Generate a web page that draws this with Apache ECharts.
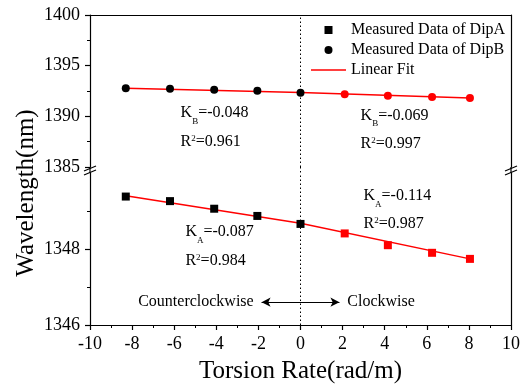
<!DOCTYPE html>
<html><head><meta charset="utf-8">
<script src="https://cdn.jsdelivr.net/npm/echarts@6/dist/echarts.min.js"></script>
<style>html,body{margin:0;padding:0;background:#fff}#c{width:526px;height:387px}</style>
</head><body><div id="c"></div>
<script>
// ---- data ----
const torsionRate = [-8.3, -6.2, -4.1, -2.05, 0, 2.1, 4.15, 6.25, 8.05];
const dipA = [1349.38, 1349.26, 1349.06, 1348.87, 1348.66, 1348.41, 1348.10, 1347.90, 1347.74];
const dipB = [1392.76, 1392.73, 1392.63, 1392.53, 1392.33, 1392.17, 1392.03, 1391.90, 1391.80];
const fitXccw = [-8.3, 0];
const fitXcw = [0, 8.05];
const fitAccw = [1349.40, 1348.68];
const fitAcw = [1348.68, 1347.74];
const fitBccw = [1392.76, 1392.36];
const fitBcw = [1392.35, 1391.80];
const xTicks = [-10, -8, -6, -4, -2, 0, 2, 4, 6, 8, 10];
const upperYTicks = [1385, 1390, 1395, 1400];
const lowerYTicks = [1346, 1348, 1350];
const lowerYLabels = [1346, 1348];
const legendNames = ['Measured Data of DipA', 'Measured Data of DipB', 'Linear Fit'];
const upperNotes = [
  {x: -5.72, y: 1390.30, text: '{n|K}{s|B}{n|=-0.048}'},
  {x: -5.72, y: 1387.50, text: '{n|R}{p|2}{n|=0.961}'},
  {x: 2.83, y: 1390.10, text: '{n|K}{s|B}{n|=-0.069}'},
  {x: 2.83, y: 1387.30, text: '{n|R}{p|2}{n|=0.997}'}
];
const lowerNotes = [
  {x: 2.97, y: 1349.40, text: '{n|K}{s|A}{n|=-0.114}'},
  {x: 2.97, y: 1348.66, text: '{n|R}{p|2}{n|=0.987}'},
  {x: -5.49, y: 1348.45, text: '{n|K}{s|A}{n|=-0.087}'},
  {x: -5.49, y: 1347.69, text: '{n|R}{p|2}{n|=0.984}'}
];
const directionNotes = [
  {x: -2.2, y: 1346.6, text: 'Counterclockwise', side: 'left'},
  {x: 2.2, y: 1346.6, text: 'Clockwise', side: 'right'}
];
const arrowSpan = [-1.85, 1.85];
const arrowY = 1346.6;

// ---- style ----
const FONT = 'Liberation Serif';
const RED = '#ff0000';
const BLACK = '#000000';
const rich = {
  n: {fontSize: 16, fontFamily: FONT, lineHeight: 26, color: BLACK},
  s: {fontSize: 9, fontFamily: FONT, lineHeight: 9, verticalAlign: 'bottom', color: BLACK},
  p: {fontSize: 9, fontFamily: FONT, lineHeight: 9, padding: [5, 0, 0, 0], verticalAlign: 'top', color: BLACK}
};
const axisLine = {show: true, onZero: false, lineStyle: {color: BLACK, width: 1.2}};
const tickStyle = {color: BLACK, width: 1.2};
const plain = v => String(v);

function pts(ys) {
  return torsionRate.map((x, i) => ({value: [x, ys[i]], itemStyle: {color: x > 0 ? RED : BLACK, opacity: 1}}));
}
function fit(xs, ys, gi) {
  return {type: 'line', name: 'Linear Fit', xAxisIndex: gi, yAxisIndex: gi * 2, symbol: 'none',
    data: xs.map((x, i) => [x, ys[i]]), lineStyle: {color: RED, width: 1.5}, itemStyle: {color: RED}, z: 3, silent: true};
}
function notes(list, gi) {
  return {type: 'scatter', xAxisIndex: gi, yAxisIndex: gi * 2, symbolSize: 1, silent: true,
    itemStyle: {color: 'rgba(0,0,0,0)', opacity: 1}, z: 6,
    data: list.map(n => ({value: [n.x, n.y], label: {formatter: n.text, position: n.side || 'right'}})),
    label: {show: true, position: 'right', distance: 0, rich: rich, fontFamily: FONT, fontSize: 16, color: BLACK}};
}
const dotted = {color: BLACK, type: [1.5, 2.5], width: 1};

const xMin = xTicks[0], xMax = xTicks[xTicks.length - 1], xInt = xTicks[1] - xTicks[0];
function xAxisBase(gi) {
  return {type: 'value', gridIndex: gi, min: xMin, max: xMax, interval: xInt, splitLine: {show: false}, axisLine: axisLine};
}
function yAxisBase(gi, ticks) {
  return {type: 'value', gridIndex: gi, min: ticks[0], max: ticks[ticks.length - 1],
    interval: ticks[1] - ticks[0], splitLine: {show: false}, axisLine: axisLine};
}

const chart = echarts.init(document.getElementById('c'));
chart.setOption({
  animation: false,
  backgroundColor: '#fff',
  grid: [
    {left: 90, right: 15, top: 15, height: 152},
    {left: 90, right: 15, top: 173, bottom: 62}
  ],
  legend: {
    data: [
      {name: legendNames[0], icon: 'path://M0,0H8V8H0Z'},
      {name: legendNames[1], icon: 'circle'},
      {name: legendNames[2], icon: 'path://M0,0H35V1.5H0Z'}
    ],
    orient: 'vertical', left: 306, top: 17, itemWidth: 35, itemHeight: 8, itemGap: 4,
    selectedMode: false, symbolKeepAspect: true,
    textStyle: {fontFamily: FONT, fontSize: 16, color: BLACK, lineHeight: 16}
  },
  xAxis: [
    Object.assign(xAxisBase(0), {position: 'top', axisTick: {show: false}, axisLabel: {show: false}}),
    Object.assign(xAxisBase(1), {position: 'bottom',
      axisTick: {show: true, length: 5, lineStyle: tickStyle},
      minorTick: {show: true, splitNumber: 2, length: 3, lineStyle: {color: BLACK, width: 1}},
      axisLabel: {fontFamily: FONT, fontSize: 18, color: BLACK, margin: 10, formatter: plain},
      name: 'Torsion Rate(rad/m)', nameLocation: 'middle', nameGap: 34,
      nameTextStyle: {fontFamily: FONT, fontSize: 25, color: BLACK}})
  ],
  yAxis: [
    Object.assign(yAxisBase(0, upperYTicks), {position: 'left',
      axisTick: {show: true, length: 5, lineStyle: tickStyle},
      minorTick: {show: true, splitNumber: 2, length: 3, lineStyle: {color: BLACK, width: 1}},
      axisLabel: {fontFamily: FONT, fontSize: 18, color: BLACK, margin: 10, formatter: plain}}),
    Object.assign(yAxisBase(0, upperYTicks), {position: 'right', axisTick: {show: false}, axisLabel: {show: false}}),
    Object.assign(yAxisBase(1, lowerYTicks), {position: 'left',
      axisTick: {show: true, length: 5, lineStyle: tickStyle, customValues: lowerYLabels},
      minorTick: {show: true, splitNumber: 2, length: 3, lineStyle: {color: BLACK, width: 1}},
      axisLabel: {fontFamily: FONT, fontSize: 18, color: BLACK, margin: 10, customValues: lowerYLabels, formatter: plain}}),
    Object.assign(yAxisBase(1, lowerYTicks), {position: 'right', axisTick: {show: false}, axisLabel: {show: false}})
  ],
  series: [
    {type: 'scatter', name: legendNames[1], xAxisIndex: 0, yAxisIndex: 0, symbol: 'circle', symbolSize: 8,
      itemStyle: {color: BLACK, opacity: 1}, data: pts(dipB), z: 4,
      markLine: {silent: true, symbol: 'none', label: {show: false}, lineStyle: dotted, data: [{xAxis: 0}]}},
    {type: 'scatter', name: legendNames[0], xAxisIndex: 1, yAxisIndex: 2, symbol: 'rect', symbolSize: 8,
      itemStyle: {color: BLACK, opacity: 1}, data: pts(dipA), z: 4,
      markLine: {silent: true, symbol: 'none', label: {show: false}, lineStyle: dotted, data: [{xAxis: 0}]}},
    fit(fitXccw, fitBccw, 0), fit(fitXcw, fitBcw, 0),
    fit(fitXccw, fitAccw, 1), fit(fitXcw, fitAcw, 1),
    notes(upperNotes, 0), notes(lowerNotes, 1), notes(directionNotes, 1),
    {type: 'line', xAxisIndex: 1, yAxisIndex: 2, symbol: 'none', silent: true, data: [],
      markLine: {silent: true, symbol: ['arrow', 'arrow'], symbolSize: [7, 9], label: {show: false},
        lineStyle: {color: BLACK, type: 'solid', width: 1},
        data: [[{coord: [arrowSpan[0], arrowY]}, {coord: [arrowSpan[1], arrowY]}]]}}
  ]
});

// axis-break decorations computed from the axes
const xl = chart.convertToPixel({xAxisIndex: 1}, xMin);
const xr = chart.convertToPixel({xAxisIndex: 1}, xMax);
const x0 = chart.convertToPixel({xAxisIndex: 1}, 0);
const yTop = chart.convertToPixel({yAxisIndex: 0}, upperYTicks[0]);
const yBot = chart.convertToPixel({yAxisIndex: 2}, lowerYTicks[lowerYTicks.length - 1]);
const ym = (yTop + yBot) / 2;
const g = [];
[xl, xr].forEach(x => {
  g.push({type: 'line', shape: {x1: x, y1: yTop, x2: x, y2: yBot}, style: {stroke: BLACK, lineWidth: 1.2}});
  g.push({type: 'line', shape: {x1: x - 6, y1: ym + 1, x2: x + 6, y2: ym - 4}, style: {stroke: BLACK, lineWidth: 1.2}});
  g.push({type: 'line', shape: {x1: x - 6, y1: ym + 5, x2: x + 6, y2: ym}, style: {stroke: BLACK, lineWidth: 1.2}});
});
g.push({type: 'line', shape: {x1: x0, y1: yTop, x2: x0, y2: yBot}, style: {stroke: BLACK, lineWidth: 1, lineDash: [1.5, 2.5]}});
g.push({type: 'text', x: 26, y: 193, rotation: Math.PI / 2,
  style: {text: 'Wavelength(nm)', fontFamily: FONT, fontSize: 25, fill: BLACK, textAlign: 'center', textVerticalAlign: 'middle'}});
chart.setOption({graphic: g});
</script></body></html>
